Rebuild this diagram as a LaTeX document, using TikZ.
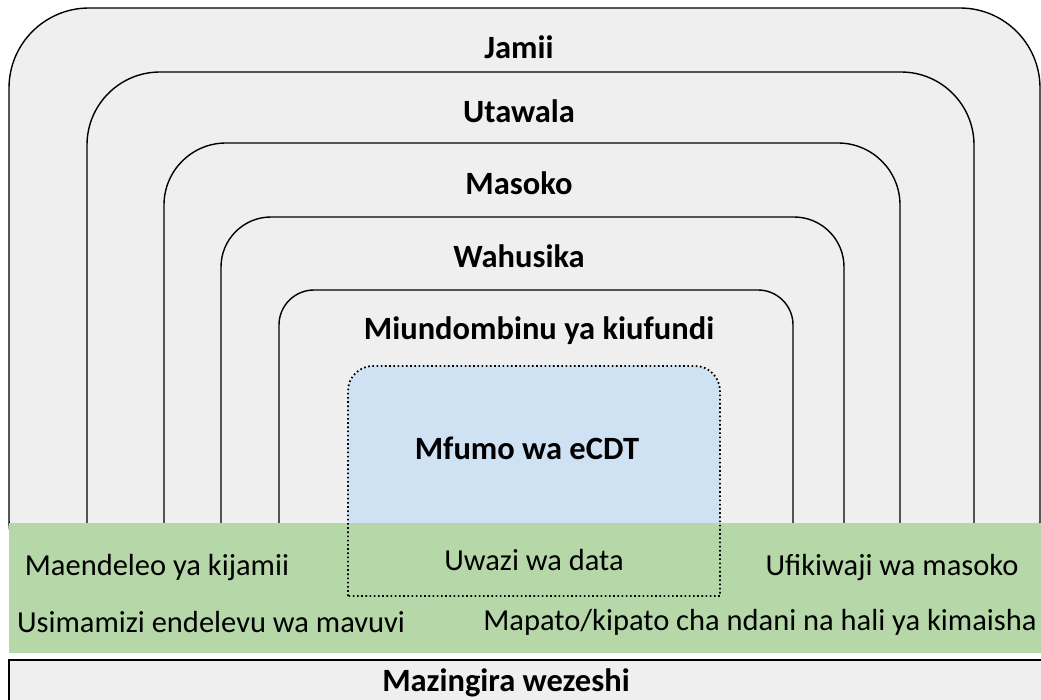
\documentclass[tikz,border=0pt]{standalone}
\usepackage{fontspec}
\setmainfont{Carlito}
\definecolor{layergrey}{HTML}{EFEFEF}
\definecolor{coreblue}{HTML}{CFE2F3}
\definecolor{impactgreen}{HTML}{B6D7A8}

\begin{document}
\begin{tikzpicture}[x=1pt, y=-1pt, line width=1.4pt,
		layer/.style={draw=black, fill=layergrey},
		title/.style={font=\fontsize{32.5}{36}\selectfont\bfseries},
		impact/.style={font=\fontsize{30.5}{34}\selectfont}]
			\useasboundingbox (0,0) rectangle (1041,700);
			\clip (0,0) rectangle (1041,700);
			% Layers
			\draw[layer, rounded corners=80] (9,8) rectangle (1040,600);
			\draw[layer, rounded corners=73] (87,72) rectangle (974,600);
			\draw[layer, rounded corners=62] (164,143) rectangle (900,600);
			\draw[layer, rounded corners=50] (221,217) rectangle (844,600);
			\draw[layer, rounded corners=35] (279,290) rectangle (793,600);
			\fill[coreblue, rounded corners=25] (348,366) rectangle (720,600);
	
			% Band and base
			\fill[impactgreen] (9,523) rectangle (1041,653);
			\draw[line width=1.8pt, dash pattern=on 1.6pt off 2.6pt] (348,596) [rounded corners=25] -- (348,366) -- (720,366) [sharp corners] -- (720,596) -- cycle;
			\draw[layer] (9,660) rectangle (1060,720);
	
			% Nodes
			\node[title] (jamii) at (519,47) {Jamii};
			\node[title] (utawala) at (519,111) {Utawala};
			\node[title] (masoko) at (519,183) {Masoko};
			\node[title] (wahusika) at (519,256) {Wahusika};
			\node[title] (miundombinu) at (539,331) {Miundombinu ya kiufundi};
			\node[title] (mfumo) at (527,448) {Mfumo wa eCDT};
			\node[impact] (uwazi) at (534,560) {Uwazi wa data};
			\node[impact] (maendeleo) at (157,568) {Maendeleo ya kijamii};
			\node[impact] (ufikiwaji) at (892,568) {Ufikiwaji wa masoko};
			\node[impact] (usimamizi) at (211,622) {Usimamizi endelevu wa mavuvi};
			\node[impact] (mapato) at (760,622) {Mapato/kipato cha ndani na hali ya kimaisha};
			\node[title] (mazingira) at (506,683) {Mazingira wezeshi};
		\end{tikzpicture}
\end{document}
